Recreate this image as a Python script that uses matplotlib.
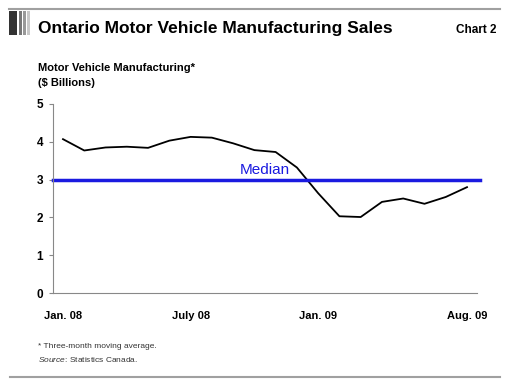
import matplotlib
matplotlib.use("Agg")
from matplotlib import pyplot as plt
from matplotlib.patches import Rectangle
from matplotlib.lines import Line2D

# monthly, Jan 08 .. Aug 09 ($ billions, three-month moving average)
months = ["Jan. 08", "Feb. 08", "Mar. 08", "Apr. 08", "May 08", "June 08", "July 08",
          "Aug. 08", "Sep. 08", "Oct. 08", "Nov. 08", "Dec. 08", "Jan. 09", "Feb. 09",
          "Mar. 09", "Apr. 09", "May 09", "June 09", "July 09", "Aug. 09"]
sales = [4.07, 3.77, 3.85, 3.87, 3.84, 4.03, 4.13, 4.11, 3.96, 3.78,
         3.73, 3.32, 2.64, 2.03, 2.01, 2.41, 2.50, 2.36, 2.54, 2.80]
median = 3.0
tick_pos = [0, 6, 12, 19]
tick_labels = ["Jan. 08", "July 08", "Jan. 09", "Aug. 09"]

plt.rcParams['font.family'] = ['Liberation Sans', 'DejaVu Sans']
plt.rcParams['mathtext.fontset'] = 'custom'
plt.rcParams['mathtext.it'] = 'Liberation Sans:italic'
plt.rcParams['mathtext.rm'] = 'Liberation Sans'

fig = plt.figure(figsize=(5.12, 3.92), dpi=100)

# header / footer decoration
deco = fig.add_axes([0, 0, 1, 1])
deco.set_xlim(0, 512)
deco.set_ylim(392, 0)
deco.axis("off")
deco.add_line(Line2D([9, 500], [9, 9], color="#a0a0a0", lw=1.5))
deco.add_line(Line2D([10, 500], [377, 377], color="#a0a0a0", lw=1.5))
for x0, w, c in [(9, 8, "#333333"), (19, 3, "#777777"), (23, 3, "#999999"), (27, 3, "#c8c8c8")]:
    deco.add_patch(Rectangle((x0, 11), w, 24, color=c, lw=0))

fig.text(38 / 512, 1 - 28 / 392, "Ontario Motor Vehicle Manufacturing Sales",
         fontsize=12.5, fontweight="bold", va="center", ha="left")
fig.text(497 / 512, 1 - 30 / 392, "Chart 2", fontsize=8.5, fontweight="bold", va="center", ha="right")
fig.text(38 / 512, 1 - 68 / 392, "Motor Vehicle Manufacturing*", fontsize=8, fontweight="bold", va="center")
fig.text(38 / 512, 1 - 83 / 392, "($ Billions)", fontsize=8, fontweight="bold", va="center")
fig.text(38 / 512, 1 - 346 / 392, "* Three-month moving average.", fontsize=6, color="#333333", va="center")
fig.text(38 / 512, 1 - 359 / 392, r"$\it{Source}$: Statistics Canada.", fontsize=6, color="#333333", va="center")

ax = fig.add_axes([53 / 512, 1 - 293 / 392, 424 / 512, 189 / 392])
x = list(range(len(sales)))
ax.plot(x, sales, color="black", lw=1.3)
ax.plot([-0.47, 19.6], [median, median], color="#1a1ae0", lw=2.5, clip_on=False)
ax.text(8.3, 3.07, "Median", color="#1a1ae0", fontsize=11, va="bottom", ha="left")

ax.set_xlim(-0.47, 19.47)
ax.set_ylim(0, 5)
ax.set_yticks([0, 1, 2, 3, 4, 5])
ax.set_xticks(tick_pos)
ax.set_xticklabels(tick_labels)
ax.tick_params(axis="y", length=3, color="#888888", labelsize=8.5, pad=4)
ax.tick_params(axis="x", length=0, labelsize=8, pad=13)
for lab in ax.get_xticklabels() + ax.get_yticklabels():
    lab.set_fontweight("bold")
for s in ["top", "right"]:
    ax.spines[s].set_visible(False)
ax.spines["left"].set_color("#888888")
ax.spines["bottom"].set_color("#888888")

fig.savefig("out.png", dpi=100)
